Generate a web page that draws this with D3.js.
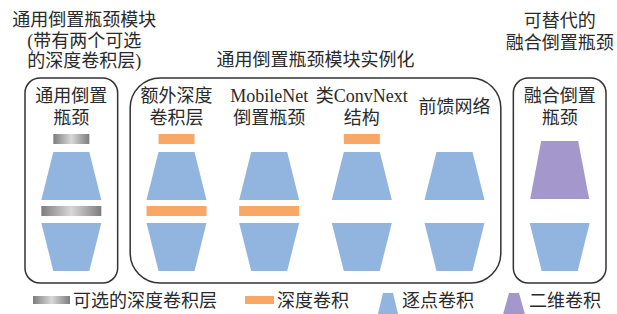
<!DOCTYPE html>
<html>
<head>
<meta charset="utf-8">
<script src="https://cdn.jsdelivr.net/npm/d3@7"></script>
<style>
body { margin: 0; background: #fff; }
svg text { font-family: "Liberation Serif", "Noto Sans CJK SC", serif; font-size: 18px; fill: #2a2a2a; }
</style>
</head>
<body>
<svg id="chart" width="617" height="314"></svg>
<script>
// columns of the diagram, label lines split by '|'
var columnLabels = ["通用倒置|瓶颈", "额外深度|卷积层", "MobileNet|倒置瓶颈", "类ConvNext|结构", "前馈网络", "融合倒置|瓶颈"];
var columnGroup = [0, 1, 1, 1, 1, 2];
// layer kinds per column (null = layer absent)
var topLayer = ["optional", "dw", null, "dw", null, null];
var midLayer = ["optional", "dw", "dw", null, null, null];
var expandLayer = ["pw", "pw", "pw", "pw", "pw", "conv"];
var projectLayer = ["pw", "pw", "pw", "pw", "pw", "pw"];

var groupTitles = [
	["通用倒置瓶颈模块", "(带有两个可选", "的深度卷积层)"],
	["通用倒置瓶颈模块实例化"],
	["可替代的", "融合倒置瓶颈"]
];
var legendKeys = ["optional", "dw", "pw", "conv"];
var legendLabels = ["可选的深度卷积层", "深度卷积", "逐点卷积", "二维卷积"];

var colors = { dw: "#f8a766", pw: "#92b5e0", conv: "#a497cb", optional: "url(#grayGrad)" };

var svg = d3.select("#chart");

// gray gradient for the optional depthwise layer
var grad = svg.append("defs").append("linearGradient").attr("id", "grayGrad");
grad.append("stop").attr("offset", "0%").attr("stop-color", "#7d7d7d");
grad.append("stop").attr("offset", "50%").attr("stop-color", "#d8d8d8");
grad.append("stop").attr("offset", "100%").attr("stop-color", "#7d7d7d");

// horizontal layout in "slot" units, with a small gap between the boxes
var gap = 0.135;
var x = d3.scaleLinear().domain([0, columnLabels.length + 2 * gap]).range([25, 606]);
function colLeft(i) { return i + columnGroup[i] * gap; }
function colCenter(i) { return x(colLeft(i) + 0.5); }

// vertical layout
var boxTop = 78, boxBottom = 283;
var boxRadius = [15, 30, 15];
var titleY = [[20, 40.5, 61], [59.5], [21, 43]];
var titleShift = [13, 0, 0];

var groups = d3.range(groupTitles.length).map(function(g) {
	var cols = d3.range(columnLabels.length).filter(function(i) { return columnGroup[i] === g; });
	return {
		g: g,
		x0: x(d3.min(cols, colLeft)),
		x1: x(d3.max(cols, colLeft) + 1)
	};
});

svg.selectAll("rect.box")
	.data(groups)
	.enter()
	.append("rect")
	.attr("class", "box")
	.attr("x", function(d) { return d.x0; })
	.attr("y", boxTop)
	.attr("width", function(d) { return d.x1 - d.x0; })
	.attr("height", boxBottom - boxTop)
	.attr("rx", function(d) { return boxRadius[d.g]; })
	.attr("fill", "none")
	.attr("stroke", "#333")
	.attr("stroke-width", 1.5);

groups.forEach(function(d) {
	var cx = (d.x0 + d.x1) / 2 + titleShift[d.g];
	svg.selectAll(null)
		.data(groupTitles[d.g])
		.enter()
		.append("text")
		.attr("x", cx)
		.attr("y", function(t, k) { return titleY[d.g][k]; })
		.attr("text-anchor", "middle")
		.attr("dominant-baseline", "central")
		.text(function(t) { return t; });
});

// column labels
columnLabels.forEach(function(lab, i) {
	var lines = lab.split("|");
	var ys = lines.length === 2 ? [96, 118] : [107];
	svg.selectAll(null)
		.data(lines)
		.enter()
		.append("text")
		.attr("x", colCenter(i))
		.attr("y", function(t, k) { return ys[k]; })
		.attr("text-anchor", "middle")
		.attr("dominant-baseline", "central")
		.text(function(t) { return t; });
});

function trap(cx, y0, y1, w0, w1) {
	return "M" + (cx - w0 / 2) + "," + y0 + "L" + (cx + w0 / 2) + "," + y0 +
		"L" + (cx + w1 / 2) + "," + y1 + "L" + (cx - w1 / 2) + "," + y1 + "Z";
}

var narrow = 36, wide = 60;
d3.range(columnLabels.length).forEach(function(i) {
	var cx = colCenter(i);
	if (topLayer[i]) {
		svg.append("rect").attr("x", cx - narrow / 2).attr("y", 134).attr("width", narrow).attr("height", 10)
			.attr("fill", colors[topLayer[i]]);
	}
	if (expandLayer[i] === "conv") {
		svg.append("path").attr("d", trap(cx, 141, 199, 37, 59)).attr("fill", colors.conv);
	} else {
		svg.append("path").attr("d", trap(cx, 152, 200, narrow, wide)).attr("fill", colors[expandLayer[i]]);
	}
	if (midLayer[i]) {
		svg.append("rect").attr("x", cx - wide / 2).attr("y", 206).attr("width", wide).attr("height", 10)
			.attr("fill", colors[midLayer[i]]);
	}
	svg.append("path").attr("d", trap(cx, 223, 271, wide, narrow)).attr("fill", colors[projectLayer[i]]);
});

// legend
var legendIcon = [37, 29, 22, 24];
var lx = 33, ly = 301;
legendKeys.forEach(function(k, i) {
	var w = legendIcon[i];
	if (k === "optional" || k === "dw") {
		svg.append("rect").attr("x", lx).attr("y", ly - 5).attr("width", w).attr("height", 8).attr("fill", colors[k]);
	} else {
		svg.append("path").attr("d", trap(lx + w / 2, 293, 318, 10, w)).attr("fill", colors[k]);
	}
	var t = svg.append("text")
		.attr("x", lx + w + 3)
		.attr("y", ly)
		.attr("dominant-baseline", "central")
		.text(legendLabels[i]);
	lx += w + 3 + t.node().getComputedTextLength() + 28;
});
</script>
</body>
</html>
